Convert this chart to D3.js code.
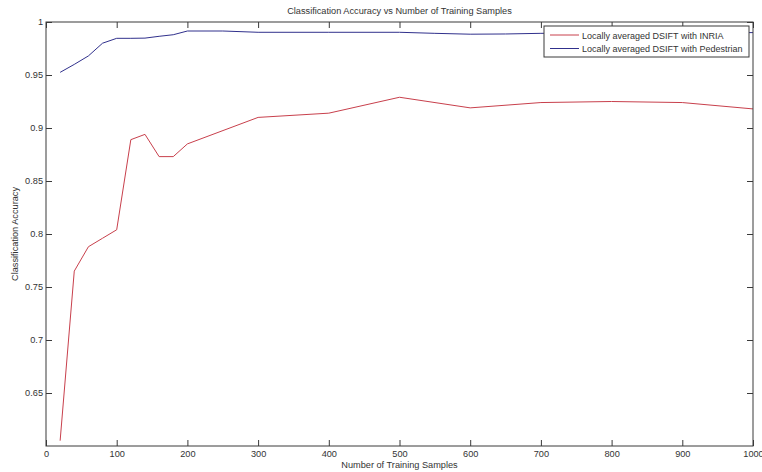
<!DOCTYPE html>
<html>
<head>
<meta charset="utf-8">
<script src="https://cdn.jsdelivr.net/npm/d3@7"></script>
<style>
  body { margin: 0; background: #fff; }
  svg text { font-family: "Liberation Sans", Arial, sans-serif; fill: #333; }
</style>
</head>
<body>
<svg id="chart" width="762" height="472"></svg>
<script>
// data
const inriaX = [20, 40, 60, 80, 100, 120, 140, 160, 180, 200, 300, 400, 500, 600, 700, 800, 900, 1000];
const inriaY = [0.605, 0.765, 0.788, 0.796, 0.804, 0.889, 0.894, 0.873, 0.873, 0.885, 0.910, 0.914, 0.929, 0.919, 0.924, 0.925, 0.924, 0.918];
const pedX = [20, 40, 60, 80, 100, 120, 140, 160, 180, 200, 250, 300, 400, 500, 550, 600, 650, 700, 800, 900, 1000];
const pedY = [0.9525, 0.960, 0.968, 0.980, 0.9846, 0.9846, 0.9848, 0.9865, 0.988, 0.9915, 0.9915, 0.9903, 0.9903, 0.9903, 0.9893, 0.9885, 0.9887, 0.9893, 0.990, 0.990, 0.990];
const xTicks = [0, 100, 200, 300, 400, 500, 600, 700, 800, 900, 1000];
const yTicks = [0.65, 0.7, 0.75, 0.8, 0.85, 0.9, 0.95, 1];
const seriesNames = ["Locally averaged DSIFT with INRIA", "Locally averaged DSIFT with Pedestrian"];
const seriesColors = ["#c8404c", "#30308c"];

const svg = d3.select("#chart");
const margin = { left: 46, right: 9, top: 22, bottom: 26 };
const width = 762 - margin.left - margin.right;
const height = 472 - margin.top - margin.bottom;

const x = d3.scaleLinear().domain([0, 1000]).range([0, width]);
const y = d3.scaleLinear().domain([0.6, 1]).range([height, 0]);

const g = svg.append("g").attr("transform", `translate(${margin.left},${margin.top})`);

// lines
const series = [
    inriaX.map((d, i) => [d, inriaY[i]]),
    pedX.map((d, i) => [d, pedY[i]])
];
const line = d3.line().x((d) => x(d[0])).y((d) => y(d[1]));
series.forEach((s, i) => {
    g.append("path")
        .datum(s)
        .attr("fill", "none")
        .attr("stroke", seriesColors[i])
        .attr("stroke-width", 1)
        .attr("d", line);
});

// axes, ticks inside like matlab
const fmt = (d) => String(d);
const axisStyle = (sel) => {
    sel.select(".domain").remove();
    sel.selectAll("line").attr("stroke", "#3a3a3a");
    sel.selectAll("text").style("font-size", "9.2px").attr("fill", "#333");
};
g.append("g").attr("transform", `translate(0,${height})`)
    .call(d3.axisBottom(x).tickValues(xTicks).tickFormat(fmt).tickSizeInner(-6).tickPadding(4))
    .call(axisStyle);
g.append("g")
    .call(d3.axisTop(x).tickValues(xTicks).tickSizeInner(-6).tickFormat(""))
    .call(axisStyle);
g.append("g")
    .call(d3.axisLeft(y).tickValues(yTicks).tickFormat(fmt).tickSizeInner(-6).tickPadding(3))
    .call(axisStyle);
g.append("g").attr("transform", `translate(${width},0)`)
    .call(d3.axisRight(y).tickValues(yTicks).tickSizeInner(-6).tickFormat(""))
    .call(axisStyle);

g.append("rect")
    .attr("width", width)
    .attr("height", height)
    .attr("fill", "none")
    .attr("stroke", "#3a3a3a");

// titles
svg.append("text")
    .attr("x", margin.left + width / 2)
    .attr("y", 14)
    .attr("text-anchor", "middle")
    .style("font-size", "9.2px")
    .text("Classification Accuracy vs Number of Training Samples");
svg.append("text")
    .attr("x", margin.left + width / 2)
    .attr("y", 468)
    .attr("text-anchor", "middle")
    .style("font-size", "9.2px")
    .text("Number of Training Samples");
svg.append("text")
    .attr("transform", `translate(18,${margin.top + height / 2}) rotate(-90)`)
    .attr("text-anchor", "middle")
    .style("font-size", "9.2px")
    .text("Classification Accuracy");

// legend
const legend = svg.append("g").attr("transform", "translate(544,26)");
legend.append("rect")
    .attr("width", 205)
    .attr("height", 31)
    .attr("fill", "#fff")
    .attr("stroke", "#3a3a3a");
seriesNames.forEach((name, i) => {
    legend.append("line")
        .attr("x1", 6).attr("x2", 35)
        .attr("y1", 9 + i * 13.5).attr("y2", 9 + i * 13.5)
        .attr("stroke", seriesColors[i]);
    legend.append("text")
        .attr("x", 38)
        .attr("y", 12.5 + i * 13.5)
        .style("font-size", "9px")
        .text(name);
});
</script>
</body>
</html>
